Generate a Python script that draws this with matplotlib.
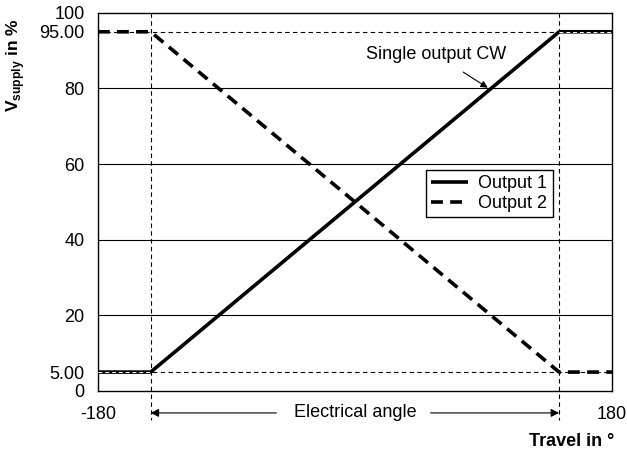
import matplotlib
matplotlib.use("Agg")
import matplotlib.pyplot as plt

plt.rcParams["font.family"] = ["Liberation Sans", "DejaVu Sans"]
plt.rcParams["mathtext.fontset"] = "custom"
plt.rcParams["mathtext.rm"] = "Liberation Sans"
plt.rcParams["mathtext.bf"] = "Liberation Sans:bold"

# Data
travel = [-180, -143, 143, 180]
output1 = [5, 5, 95, 95]
output2 = [95, 95, 5, 5]
grid_levels = [20, 40, 60, 80]
ref_levels = [5, 95]
angle_limits = [-143, 143]
yticks = [0, 5, 20, 40, 60, 80, 95, 100]
ytick_labels = ["0", "5.00", "20", "40", "60", "80", "95.00", "100"]
xticks = [-180, 180]
xtick_labels = ["-180", "180"]

FS = 13

fig = plt.figure(figsize=(6.27, 4.55), dpi=100)
ax = fig.add_axes([0.156, 0.1407, 0.82, 0.831])
ax.set_xlim(-180, 180)
ax.set_ylim(0, 100)

for lvl in grid_levels:
    ax.axhline(lvl, color="black", lw=0.8, zorder=1)
for lvl in ref_levels:
    ax.axhline(lvl, color="black", lw=0.8, ls=(0, (4, 3)), zorder=1)

# vertical limits of the electrical angle, reaching below the axes
for xv in angle_limits:
    ax.plot([xv, xv], [100, -7.8], color="black", lw=0.8, ls=(0, (4, 3)),
            clip_on=False, zorder=1)

ax.plot(travel, output1, color="black", lw=2.6, solid_capstyle="butt",
        label="Output 1", zorder=3)
ax.plot(travel, output2, color="black", lw=2.6, dashes=(3.3, 2.0),
        label="Output 2", zorder=3)
# white dashed reference line showing through the flat parts of output 1
ax.plot([-180, -143], [5, 5], color="white", lw=0.7, ls=(0, (4, 3)), zorder=4)
ax.plot([143, 180], [95, 95], color="white", lw=0.7, ls=(0, (4, 3)), zorder=4)

ax.set_yticks(yticks)
ax.set_yticklabels(ytick_labels)
ax.set_xticks(xticks)
ax.set_xticklabels(xtick_labels)
ax.tick_params(axis="y", length=0, pad=9.5, labelsize=FS)
ax.tick_params(axis="x", length=0, pad=11, labelsize=FS)
for sp in ax.spines.values():
    sp.set_linewidth(1.0)

ax.set_ylabel(r"$\mathbf{V}_{\mathbf{supply}}$ in %", fontsize=12.5,
              fontweight="bold")
ax.yaxis.set_label_coords(-0.138, 0.862)

fig.text(0.979, 0.0286, "Travel in °", ha="right", va="center",
         fontsize=FS, fontweight="bold")

# electrical angle annotation below the axes
ax.text(0, -5.8, "Electrical angle", ha="center", va="center",
        fontsize=FS, clip_on=False)
ax.annotate("", xy=(-143, -5.8), xytext=(-55, -5.8),
            arrowprops=dict(arrowstyle="-|>", color="black", lw=0.8,
                            mutation_scale=12, shrinkA=0, shrinkB=0),
            annotation_clip=False)
ax.annotate("", xy=(143, -5.8), xytext=(53, -5.8),
            arrowprops=dict(arrowstyle="-|>", color="black", lw=0.8,
                            mutation_scale=12, shrinkA=0, shrinkB=0),
            annotation_clip=False)

ax.annotate("Single output CW", xy=(93, 80.2), xytext=(57, 88.9),
            ha="center", va="center", fontsize=FS,
            arrowprops=dict(arrowstyle="-|>", color="black", lw=0.8,
                            mutation_scale=10, shrinkA=8, shrinkB=0))

leg = ax.legend(loc="upper right", bbox_to_anchor=(0.885, 0.585),
                fancybox=False, edgecolor="black", framealpha=1,
                fontsize=FS, handlelength=2.0, handletextpad=0.6,
                borderpad=0.3, labelspacing=0.15, borderaxespad=0)
leg.get_frame().set_linewidth(1.0)

fig.savefig("out.png", dpi=100)
